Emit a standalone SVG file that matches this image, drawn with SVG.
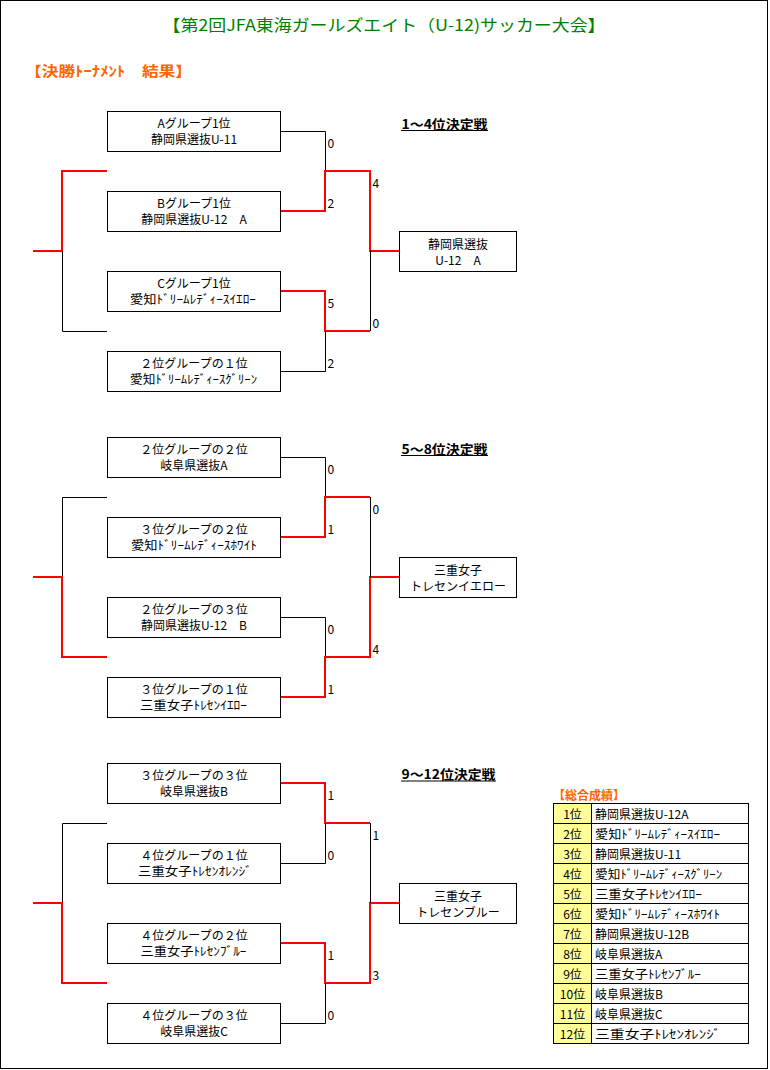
<svg xmlns="http://www.w3.org/2000/svg" width="770" height="1070" viewBox="0 0 770 1070">
<style>
.t{font-family:"Noto Sans CJK JP","Liberation Sans",sans-serif;font-size:12px;fill:#000}
.c{text-anchor:middle}
.box{fill:#fff;stroke:#000;stroke-width:1}
.blk{stroke:#000;stroke-width:1;fill:none}
.red{stroke:#FF0000;stroke-width:2;fill:none}
.hd{font-family:"Noto Sans CJK JP","Liberation Sans",sans-serif;font-size:13px;font-weight:bold;fill:#000}
.or{font-family:"Noto Sans CJK JP","Liberation Sans",sans-serif;font-weight:bold;fill:#FF6600}
.rk{fill:#FFFF99;stroke:#000;stroke-width:1}
.cell{fill:#fff;stroke:#000;stroke-width:1}
</style>
<rect x="0.5" y="0.5" width="767" height="1068" fill="#fff" stroke="#000" stroke-width="1"/>
<text x="384" y="31" text-anchor="middle" textLength="443" lengthAdjust="spacingAndGlyphs" style="font-family:'Noto Sans CJK JP','Liberation Sans',sans-serif;font-size:16px;fill:#008000">【第2回JFA東海ガールズエイト（U-12)サッカー大会】</text>
<text class="or" x="25" y="75.5" font-size="14" textLength="167" lengthAdjust="spacingAndGlyphs">【決勝ﾄｰﾅﾒﾝﾄ　結果】</text>

<g id="connectors">
<g transform="translate(0,111)">
<path class="blk" d="M280.5 20.5H325.5V60"/>
<path class="red" d="M280 100H325V60H370V140H399"/>
<path class="red" d="M280 180H325V220H370"/>
<path class="blk" d="M280.5 260.5H325.5V220"/>
<path class="blk" d="M370.5 140V220"/>
<path class="red" d="M107 60H62V140H33"/>
<path class="blk" d="M62.5 140V220.5H107"/>
</g>
<g transform="translate(0,437)">
<path class="blk" d="M280.5 20.5H325.5V60"/>
<path class="red" d="M280 100H325V60H370"/>
<path class="blk" d="M280.5 180.5H325.5V220"/>
<path class="red" d="M280 260H325V220H370V140H399"/>
<path class="blk" d="M370.5 60V140"/>
<path class="blk" d="M107 60.5H62.5V140"/>
<path class="red" d="M33 140H62V220H107"/>
</g>
<g transform="translate(0,763)">
<path class="red" d="M280 20H325V60H370"/>
<path class="blk" d="M280.5 100.5H325.5V60"/>
<path class="red" d="M280 180H325V220H370V140H399"/>
<path class="blk" d="M280.5 260.5H325.5V220"/>
<path class="blk" d="M370.5 60V140"/>
<path class="blk" d="M107 60.5H62.5V140"/>
<path class="red" d="M33 140H62V220H107"/>
</g>
</g>

<g id="scores" class="t">
<text x="327.5" y="147.5">0</text>
<text x="327.5" y="207.5">2</text>
<text x="372.5" y="187.5">4</text>
<text x="327.5" y="307.5">5</text>
<text x="372.5" y="327.5">0</text>
<text x="327.5" y="367.5">2</text>

<text x="327.5" y="473.5">0</text>
<text x="327.5" y="533.5">1</text>
<text x="372.5" y="513.5">0</text>
<text x="327.5" y="633.5">0</text>
<text x="372.5" y="653.5">4</text>
<text x="327.5" y="693.5">1</text>

<text x="327.5" y="799.5">1</text>
<text x="327.5" y="859.5">0</text>
<text x="372.5" y="839.5">1</text>
<text x="327.5" y="959.5">1</text>
<text x="372.5" y="979.5">3</text>
<text x="327.5" y="1019.5">0</text>
</g>

<g id="headings">
<text class="hd" x="401.5" y="128.5" textLength="86" lengthAdjust="spacingAndGlyphs">1～4位決定戦</text>
<line class="blk" x1="401" y1="130.5" x2="488" y2="130.5"/>
<text class="hd" x="401.5" y="453.5" textLength="86" lengthAdjust="spacingAndGlyphs">5～8位決定戦</text>
<line class="blk" x1="401" y1="455.5" x2="488" y2="455.5"/>
<text class="hd" x="401.5" y="779" textLength="94" lengthAdjust="spacingAndGlyphs">9～12位決定戦</text>
<line class="blk" x1="401" y1="781" x2="496" y2="781"/>
</g>

<g id="n1a"><rect class="box" x="107.5" y="111.5" width="173" height="40"/><text class="t c" x="194" y="127.6">Aグループ1位</text><text class="t c" x="194" y="143.6">静岡県選抜U-11</text></g>
<g id="n1b"><rect class="box" x="107.5" y="191.5" width="173" height="40"/><text class="t c" x="194" y="207.6">Bグループ1位</text><text class="t c" x="194" y="223.6">静岡県選抜U-12　A</text></g>
<g id="n1c"><rect class="box" x="107.5" y="271.5" width="173" height="40"/><text class="t c" x="194" y="287.6">Cグループ1位</text><text class="t c" x="193" y="303.6" textLength="126" lengthAdjust="spacingAndGlyphs">愛知ﾄﾞﾘｰﾑﾚﾃﾞｨｰｽｲｴﾛｰ</text></g>
<g id="n1d"><rect class="box" x="107.5" y="351.5" width="173" height="40"/><text class="t c" x="194" y="367.6">２位グループの１位</text><text class="t c" x="193.5" y="383.6" textLength="127" lengthAdjust="spacingAndGlyphs">愛知ﾄﾞﾘｰﾑﾚﾃﾞｨｰｽｸﾞﾘｰﾝ</text></g>
<g id="w1"><rect class="box" x="399.5" y="231.5" width="117" height="40"/><text class="t c" x="458" y="248.6">静岡県選抜</text><text class="t c" x="458" y="264.6">U-12　A</text></g>

<g id="n2a"><rect class="box" x="107.5" y="437.5" width="173" height="40"/><text class="t c" x="194" y="453.6">２位グループの２位</text><text class="t c" x="194" y="469.6">岐阜県選抜A</text></g>
<g id="n2b"><rect class="box" x="107.5" y="517.5" width="173" height="40"/><text class="t c" x="194" y="533.6">３位グループの２位</text><text class="t c" x="194" y="549.6" textLength="126" lengthAdjust="spacingAndGlyphs">愛知ﾄﾞﾘｰﾑﾚﾃﾞｨｰｽﾎﾜｲﾄ</text></g>
<g id="n2c"><rect class="box" x="107.5" y="597.5" width="173" height="40"/><text class="t c" x="194" y="613.6">２位グループの３位</text><text class="t c" x="194" y="629.6">静岡県選抜U-12　B</text></g>
<g id="n2d"><rect class="box" x="107.5" y="677.5" width="173" height="40"/><text class="t c" x="194" y="693.6">３位グループの１位</text><text class="t c" x="193.5" y="709.6" textLength="107" lengthAdjust="spacingAndGlyphs">三重女子ﾄﾚｾﾝｲｴﾛｰ</text></g>
<g id="w2"><rect class="box" x="399.5" y="557.5" width="117" height="40"/><text class="t c" x="458" y="574.6">三重女子</text><text class="t c" x="458" y="590.6">トレセンイエロー</text></g>

<g id="n3a"><rect class="box" x="107.5" y="763.5" width="173" height="40"/><text class="t c" x="194" y="779.6">３位グループの３位</text><text class="t c" x="194" y="795.6">岐阜県選抜B</text></g>
<g id="n3b"><rect class="box" x="107.5" y="843.5" width="173" height="40"/><text class="t c" x="194" y="859.6">４位グループの１位</text><text class="t c" x="195" y="875.6" textLength="114" lengthAdjust="spacingAndGlyphs">三重女子ﾄﾚｾﾝｵﾚﾝｼﾞ</text></g>
<g id="n3c"><rect class="box" x="107.5" y="923.5" width="173" height="40"/><text class="t c" x="194" y="939.6">４位グループの２位</text><text class="t c" x="193.5" y="955.6" textLength="106" lengthAdjust="spacingAndGlyphs">三重女子ﾄﾚｾﾝﾌﾞﾙｰ</text></g>
<g id="n3d"><rect class="box" x="107.5" y="1003.5" width="173" height="40"/><text class="t c" x="194" y="1019.6">４位グループの３位</text><text class="t c" x="194" y="1035.6">岐阜県選抜C</text></g>
<g id="w3"><rect class="box" x="399.5" y="883.5" width="117" height="40"/><text class="t c" x="458" y="900.6">三重女子</text><text class="t c" x="458" y="916.6">トレセンブルー</text></g>

<g id="ranking">
<text class="or" x="553" y="800" font-size="12" textLength="72" lengthAdjust="spacingAndGlyphs">【総合成績】</text>
<g class="t">
<rect class="rk" x="553.5" y="803.5" width="38" height="20"/><rect class="cell" x="591.5" y="803.5" width="157" height="20"/><text class="c" x="572.5" y="819">1位</text><text x="595" y="819">静岡県選抜U-12A</text>
<rect class="rk" x="553.5" y="823.5" width="38" height="20"/><rect class="cell" x="591.5" y="823.5" width="157" height="20"/><text class="c" x="572.5" y="839">2位</text><text x="595" y="839" textLength="125" lengthAdjust="spacingAndGlyphs">愛知ﾄﾞﾘｰﾑﾚﾃﾞｨｰｽｲｴﾛｰ</text>
<rect class="rk" x="553.5" y="843.5" width="38" height="20"/><rect class="cell" x="591.5" y="843.5" width="157" height="20"/><text class="c" x="572.5" y="859">3位</text><text x="595" y="859">静岡県選抜U-11</text>
<rect class="rk" x="553.5" y="863.5" width="38" height="20"/><rect class="cell" x="591.5" y="863.5" width="157" height="20"/><text class="c" x="572.5" y="879">4位</text><text x="595" y="879" textLength="127" lengthAdjust="spacingAndGlyphs">愛知ﾄﾞﾘｰﾑﾚﾃﾞｨｰｽｸﾞﾘｰﾝ</text>
<rect class="rk" x="553.5" y="883.5" width="38" height="20"/><rect class="cell" x="591.5" y="883.5" width="157" height="20"/><text class="c" x="572.5" y="899">5位</text><text x="595" y="899" textLength="107" lengthAdjust="spacingAndGlyphs">三重女子ﾄﾚｾﾝｲｴﾛｰ</text>
<rect class="rk" x="553.5" y="903.5" width="38" height="20"/><rect class="cell" x="591.5" y="903.5" width="157" height="20"/><text class="c" x="572.5" y="919">6位</text><text x="595" y="919" textLength="125" lengthAdjust="spacingAndGlyphs">愛知ﾄﾞﾘｰﾑﾚﾃﾞｨｰｽﾎﾜｲﾄ</text>
<rect class="rk" x="553.5" y="923.5" width="38" height="20"/><rect class="cell" x="591.5" y="923.5" width="157" height="20"/><text class="c" x="572.5" y="939">7位</text><text x="595" y="939">静岡県選抜U-12B</text>
<rect class="rk" x="553.5" y="943.5" width="38" height="20"/><rect class="cell" x="591.5" y="943.5" width="157" height="20"/><text class="c" x="572.5" y="959">8位</text><text x="595" y="959">岐阜県選抜A</text>
<rect class="rk" x="553.5" y="963.5" width="38" height="20"/><rect class="cell" x="591.5" y="963.5" width="157" height="20"/><text class="c" x="572.5" y="979">9位</text><text x="595" y="979" textLength="106" lengthAdjust="spacingAndGlyphs">三重女子ﾄﾚｾﾝﾌﾞﾙｰ</text>
<rect class="rk" x="553.5" y="983.5" width="38" height="20"/><rect class="cell" x="591.5" y="983.5" width="157" height="20"/><text class="c" x="572.5" y="999">10位</text><text x="595" y="999">岐阜県選抜B</text>
<rect class="rk" x="553.5" y="1003.5" width="38" height="20"/><rect class="cell" x="591.5" y="1003.5" width="157" height="20"/><text class="c" x="572.5" y="1019">11位</text><text x="595" y="1019">岐阜県選抜C</text>
<rect class="rk" x="553.5" y="1023.5" width="38" height="20"/><rect class="cell" x="591.5" y="1023.5" width="157" height="20"/><text class="c" x="572.5" y="1039">12位</text><text x="595" y="1039" textLength="126" lengthAdjust="spacingAndGlyphs">三重女子ﾄﾚｾﾝｵﾚﾝｼﾞ</text>
</g>
</g>
</svg>
